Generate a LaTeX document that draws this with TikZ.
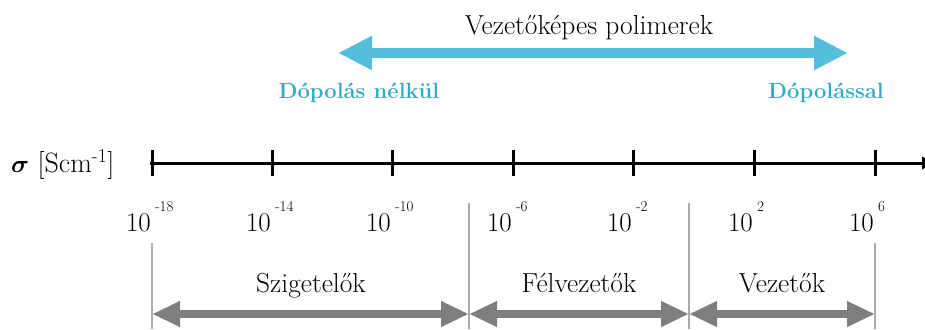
\documentclass[tikz,border=0pt]{standalone}
\usepackage{amsmath}
\usetikzlibrary{arrows.meta}
\definecolor{cyanA}{HTML}{56BEDC}
\definecolor{cyanT}{HTML}{35AAC6}
\definecolor{grayA}{HTML}{7F7F7F}
\definecolor{grayL}{HTML}{ABABAB}
\begin{document}
\begin{tikzpicture}[x=1pt,y=-1pt,
 txt/.style={font=\fontsize{27.5}{32}\selectfont, inner sep=0pt, anchor=base},
 num/.style={font=\fontsize{27}{32}\selectfont, inner sep=0pt, anchor=base east},
 expo/.style={font=\fontsize{15}{17}\selectfont, inner sep=0pt, anchor=base west},
 dop/.style={font=\fontsize{22}{26}\selectfont\bfseries, text=cyanT, inner sep=0pt, anchor=base},
 tickline/.style={line width=3pt},
 axisline/.style={line width=3pt},
 guide/.style={grayL, line width=1.5pt},
 rangearrow/.style={grayA, line width=8pt, {Triangle[length=28pt,width=24pt]}-{Triangle[length=28pt,width=24pt]}},
 polyarrow/.style={cyanA, line width=10pt, {Triangle[length=34pt,width=32pt]}-{Triangle[length=34pt,width=32pt]}}]
\useasboundingbox (0,0) rectangle (925,329);

% axis
\coordinate (axL) at (150,163);
\coordinate (axR) at (934,163);
\draw[axisline,-{Triangle[length=12pt,width=12pt]}] (axL) -- (axR);
\foreach \i/\x in {1/152,2/272,3/392,4/513,5/633,6/754,7/875}{
  \coordinate (t\i) at (\x,163);
  \coordinate (tu\i) at (\x,150);
  \coordinate (td\i) at (\x,176);
  \draw[tickline] (tu\i) -- (td\i);
}
\node[font=\fontsize{28}{32}\selectfont, inner sep=0pt, anchor=base west] (sigma) at (11,172) {$\boldsymbol{\sigma}$ [Scm\textsuperscript{-1}]};

% tick labels
\foreach \i/\x/\e in {1/152/-18,2/272/-14,3/392/-10,4/513/-6,5/633/-2,6/754/2,7/875/6}{
  \node[num] (n\i) at (\x-1,231) {10};
  \node[expo] (e\i) at (\x+3,211) {\e};
}

% guides
\coordinate (g1a) at (152,243); \coordinate (g1b) at (152,329);
\coordinate (g2a) at (469,203); \coordinate (g2b) at (469,329);
\coordinate (g3a) at (689,203); \coordinate (g3b) at (689,329);
\coordinate (g4a) at (875,243); \coordinate (g4b) at (875,329);
\draw[guide] (g1a) -- (g1b);
\draw[guide] (g2a) -- (g2b);
\draw[guide] (g3a) -- (g3b);
\draw[guide] (g4a) -- (g4b);

% range arrows
\coordinate (r1) at (152,314);
\coordinate (r2) at (469,314);
\coordinate (r3) at (689,314);
\coordinate (r4) at (875,314);
\draw[rangearrow] (r1) -- (r2);
\draw[rangearrow] (r2) -- (r3);
\draw[rangearrow] (r3) -- (r4);
\node[txt] (szig) at (311,292) {Szigetelők};
\node[txt] (felv) at (579,292) {Félvezetők};
\node[txt] (vez) at (782,292) {Vezetők};

% polymer arrow
\coordinate (pL) at (338,53);
\coordinate (pR) at (848,53);
\draw[polyarrow] (pL) -- (pR);
\node[txt] (poly) at (589,35) {Vezetőképes polimerek};
\node[dop] (dop1) at (359,98) {Dópolás nélkül};
\node[dop] (dop2) at (826,98) {Dópolással};
\end{tikzpicture}
\end{document}
